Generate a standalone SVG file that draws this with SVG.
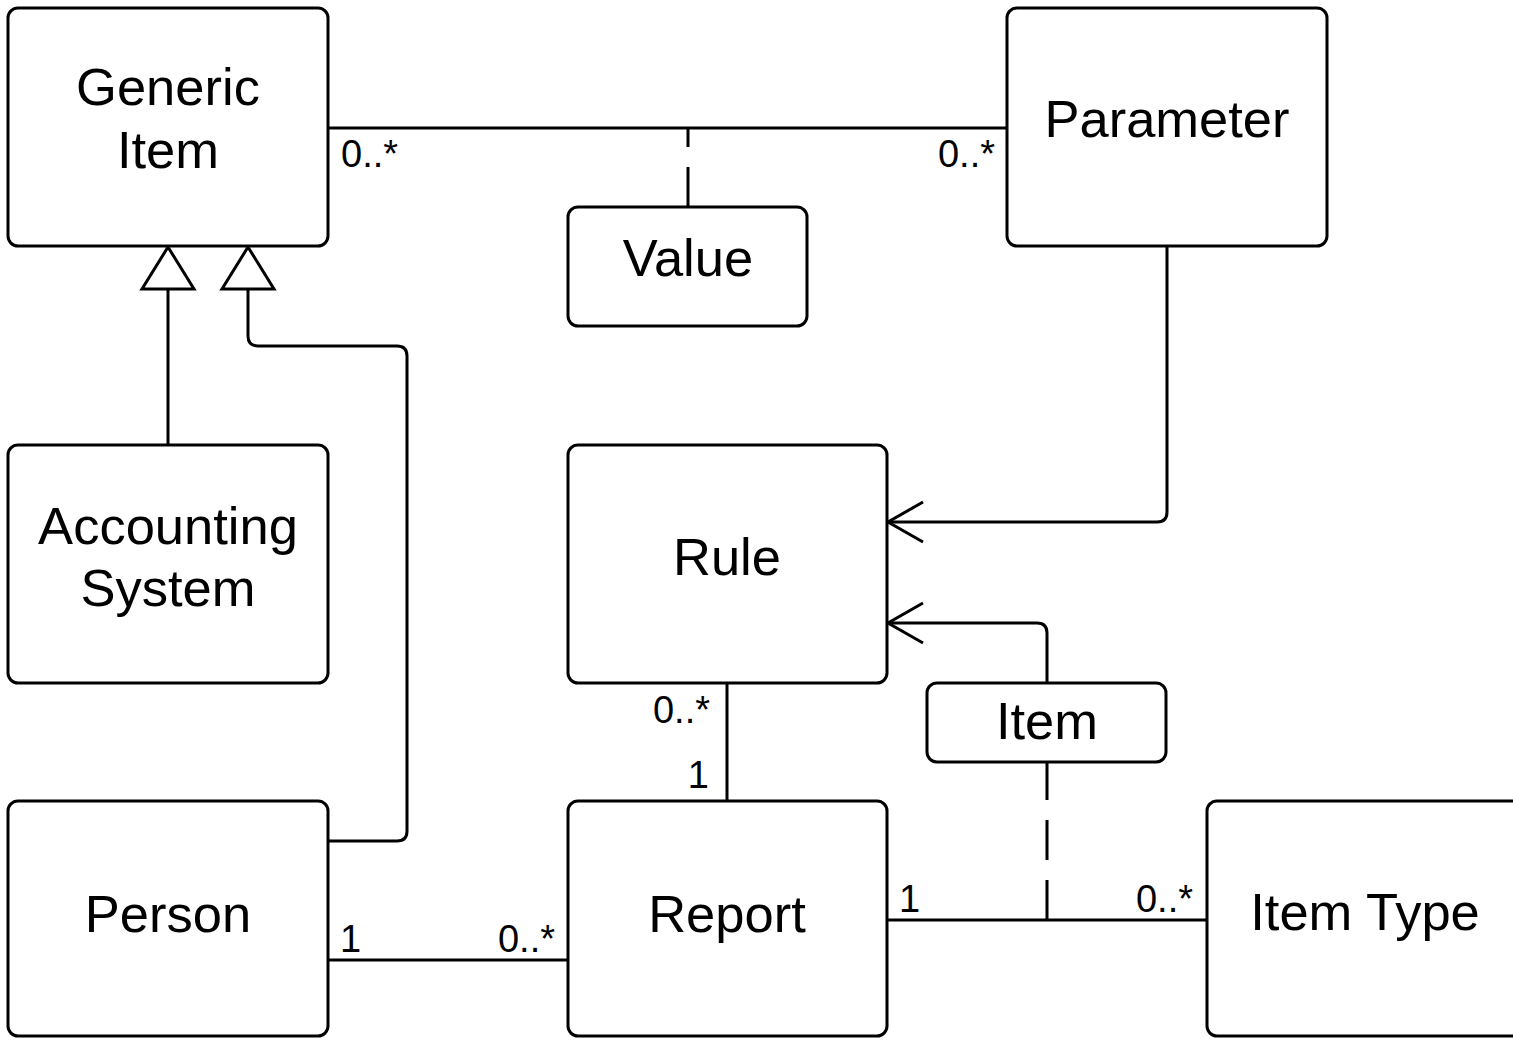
<svg xmlns="http://www.w3.org/2000/svg" width="1513" height="1038" viewBox="0 0 1513 1038">
<style>
.box{fill:#fff;stroke:#000;stroke-width:3}
.t{font-family:"Liberation Sans",Arial,sans-serif;font-size:52.5px;fill:#000;text-anchor:middle}
.lb{font-family:"Liberation Sans",Arial,sans-serif;font-size:38px;fill:#000}
.e{text-anchor:end}
.c{fill:none;stroke:#000;stroke-width:3}
.d{stroke-dasharray:40 20}
.tri{fill:#fff;stroke:#000;stroke-width:3;stroke-linejoin:miter}
</style>
<rect width="1513" height="1038" fill="#fff"/>
<g id="connectors">
<path class="c" d="M328,128 H1007"/>
<path class="c d" d="M688,207 V128"/>
<path class="c d" d="M1047,920 V762"/>
<path class="c" d="M168,445 V289"/>
<polygon class="tri" points="168,247 142,289 194,289"/>
<path class="c" d="M328,841 H397 Q407,841 407,831 V356 Q407,346 397,346 H258 Q248,346 248,336 V289"/>
<polygon class="tri" points="248,247 222,289 274,289"/>
<path class="c" d="M1167,246 V512 Q1167,522 1157,522 H888"/>
<path class="c" d="M923,502 L888,522 L923,542"/>
<path class="c" d="M1047,683 V633 Q1047,623 1037,623 H888"/>
<path class="c" d="M923,603 L888,623 L923,643"/>
<path class="c" d="M727,683 V801"/>
<path class="c" d="M328,960 H568"/>
<path class="c" d="M887,920 H1207"/>
<text class="lb" x="341" y="167">0..*</text>
<text class="lb e" x="995" y="167">0..*</text>
<text class="lb e" x="710" y="723">0..*</text>
<text class="lb e" x="709" y="788">1</text>
<text class="lb" x="340" y="952">1</text>
<text class="lb e" x="555" y="952">0..*</text>
<text class="lb" x="899" y="912">1</text>
<text class="lb e" x="1193" y="912">0..*</text>
</g>
<g id="generic-item"><rect class="box" x="8" y="8" width="320" height="238" rx="10"/><text class="t" x="168" y="105">Generic</text><text class="t" x="168" y="168">Item</text></g>
<g id="parameter"><rect class="box" x="1007" y="8" width="320" height="238" rx="10"/><text class="t" x="1167" y="137">Parameter</text></g>
<g id="value"><rect class="box" x="568" y="207" width="239" height="119" rx="10"/><text class="t" x="688" y="276">Value</text></g>
<g id="accounting-system"><rect class="box" x="8" y="445" width="320" height="238" rx="10"/><text class="t" x="168" y="544">Accounting</text><text class="t" x="168" y="606">System</text></g>
<g id="rule"><rect class="box" x="568" y="445" width="319" height="238" rx="10"/><text class="t" x="727" y="575">Rule</text></g>
<g id="item"><rect class="box" x="927" y="683" width="239" height="79" rx="10"/><text class="t" x="1047" y="739">Item</text></g>
<g id="person"><rect class="box" x="8" y="801" width="320" height="235" rx="10"/><text class="t" x="168" y="932">Person</text></g>
<g id="report"><rect class="box" x="568" y="801" width="319" height="235" rx="10"/><text class="t" x="727" y="932">Report</text></g>
<g id="item-type"><rect class="box" x="1207" y="801" width="320" height="235" rx="10"/><text class="t" x="1365" y="930">Item Type</text></g>
</svg>
